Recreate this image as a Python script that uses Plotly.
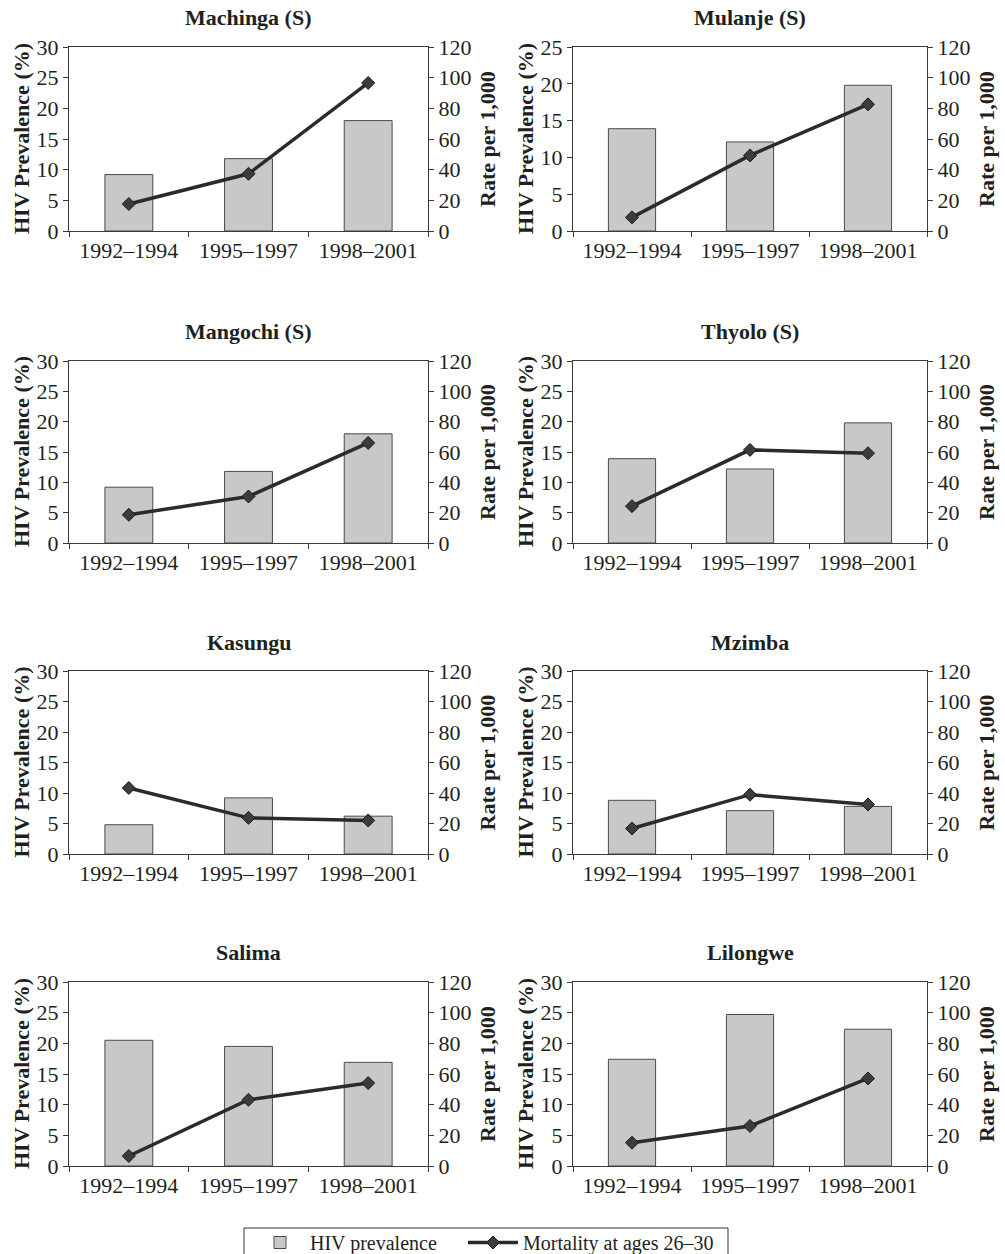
import plotly.graph_objects as go

periods = ["1992–1994", "1995–1997", "1998–2001"]
districts = ["Machinga (S)", "Mulanje (S)", "Mangochi (S)", "Thyolo (S)",
             "Kasungu", "Mzimba", "Salima", "Lilongwe"]

machinga_hiv = [9.2, 11.8, 18.0]
machinga_mort = [17.6, 37.3, 96.6]
mulanje_hiv = [13.9, 12.1, 19.8]
mulanje_mort = [8.9, 49.3, 82.6]
mangochi_hiv = [9.2, 11.8, 18.0]
mangochi_mort = [18.6, 30.7, 66.0]
thyolo_hiv = [13.9, 12.2, 19.8]
thyolo_mort = [24.3, 61.4, 59.2]
kasungu_hiv = [4.8, 9.2, 6.2]
kasungu_mort = [43.3, 23.7, 22.0]
mzimba_hiv = [8.8, 7.1, 7.8]
mzimba_mort = [16.7, 38.9, 32.5]
salima_hiv = [20.5, 19.5, 16.9]
salima_mort = [6.5, 43.2, 54.1]
lilongwe_hiv = [17.4, 24.7, 22.3]
lilongwe_mort = [15.2, 26.1, 57.1]

hiv_series = [machinga_hiv, mulanje_hiv, mangochi_hiv, thyolo_hiv,
              kasungu_hiv, mzimba_hiv, salima_hiv, lilongwe_hiv]
mort_series = [machinga_mort, mulanje_mort, mangochi_mort, thyolo_mort,
               kasungu_mort, mzimba_mort, salima_mort, lilongwe_mort]
left_max = [30, 25, 30, 30, 30, 30, 30, 30]
right_max = 120

W, H = 1005, 1254
FONT = "Liberation Serif"
TXT = "#231f20"
LINE = "#3a3a3a"
FS = 22

# pixel geometry of the plot areas
col_x = [(69, 428), (573, 927)]
row_y = [(47, 231), (361, 543), (671, 854), (982, 1166)]

legend_common = dict(orientation="h", yanchor="top", y=1 - 1223 / H,
                     borderwidth=0, itemwidth=50, bgcolor="rgba(0,0,0,0)",
                     font=dict(family=FONT, size=20, color=TXT))

fig = go.Figure()
layout = dict(
    width=W, height=H,
    margin=dict(l=0, r=0, t=0, b=0, autoexpand=False),
    paper_bgcolor="white", plot_bgcolor="white",
    font=dict(family=FONT, size=FS, color=TXT),
    bargap=0.6,
    showlegend=True,
    legend=dict(x=250 / W, xanchor="left", **legend_common),
    legend2=dict(x=463 / W, xanchor="left", **legend_common),
)
annotations = []

for i, name in enumerate(districts):
    r, c = divmod(i, 2)
    x0, x1 = col_x[c]
    yt, yb = row_y[r]
    xd = [x0 / W, x1 / W]
    yd = [1 - yb / H, 1 - yt / H]
    xa = f"x{i + 1}"
    yl = f"y{2 * i + 1}"
    yr = f"y{2 * i + 2}"

    fig.add_trace(go.Bar(
        x=periods, y=hiv_series[i], xaxis=xa, yaxis=yl,
        name="HIV prevalence", showlegend=(i == 0), legend="legend",
        marker=dict(color="#c8c8c9", line=dict(color="#4a4a4a", width=1)),
    ))
    fig.add_trace(go.Scatter(
        x=periods, y=mort_series[i], xaxis=xa, yaxis=yr,
        name="Mortality at ages 26–30", showlegend=(i == 0), legend="legend2",
        mode="lines+markers",
        line=dict(color="#2b2b2b", width=3.5),
        marker=dict(symbol="diamond", size=10, color="#3c3c3c",
                    line=dict(color="#1a1a1a", width=1)),
    ))

    axfont = dict(family=FONT, size=FS, color=TXT)
    layout[f"xaxis{i + 1}"] = dict(
        domain=xd, anchor=yl, type="category", tickson="boundaries",
        ticks="outside", ticklen=5, tickcolor=LINE,
        showline=True, linecolor=LINE, linewidth=1, mirror=True,
        showgrid=False, zeroline=False, tickfont=axfont,
        automargin=False,
    )
    layout[f"yaxis{2 * i + 1}"] = dict(
        domain=yd, anchor=xa, range=[0, left_max[i]], dtick=5,
        ticks="outside", ticklen=5, tickcolor=LINE,
        showline=True, linecolor=LINE, linewidth=1,
        showgrid=False, zeroline=False, tickfont=axfont,
        automargin=False,
    )
    layout[f"yaxis{2 * i + 2}"] = dict(
        overlaying=yl, anchor=xa, side="right",
        range=[0, right_max], dtick=20,
        ticks="outside", ticklen=5, tickcolor=LINE,
        showline=True, linecolor=LINE, linewidth=1,
        showgrid=False, zeroline=False, tickfont=axfont,
        automargin=False,
    )

    ymid = 1 - (yt + yb) / 2 / H
    annotations.append(dict(
        text=f"<b>{name}</b>", x=(x0 + x1) / 2 / W, y=1 - (yt - 29) / H,
        xref="paper", yref="paper", showarrow=False,
        xanchor="center", yanchor="middle",
        font=dict(family=FONT, size=FS, color=TXT)))
    annotations.append(dict(
        text="<b>HIV Prevalence (%)</b>", x=(x0 - 48) / W, y=ymid,
        xref="paper", yref="paper", showarrow=False, textangle=-90,
        xanchor="center", yanchor="middle",
        font=dict(family=FONT, size=FS, color=TXT)))
    annotations.append(dict(
        text="<b>Rate per 1,000</b>", x=(x1 + 59) / W, y=ymid,
        xref="paper", yref="paper", showarrow=False, textangle=-90,
        xanchor="center", yanchor="middle",
        font=dict(family=FONT, size=FS, color=TXT)))

layout["annotations"] = annotations
layout["shapes"] = [dict(
    type="rect", xref="paper", yref="paper",
    x0=244 / W, x1=728 / W, y0=-0.05, y1=1 - 1228 / H,
    line=dict(color="#333333", width=1), fillcolor="rgba(0,0,0,0)",
)]
fig.update_layout(**layout)
fig.write_html("out.html",
               config={"displayModeBar": False},
               post_script="document.body.style.margin='0px';"
                           "document.body.style.overflow='hidden';")
